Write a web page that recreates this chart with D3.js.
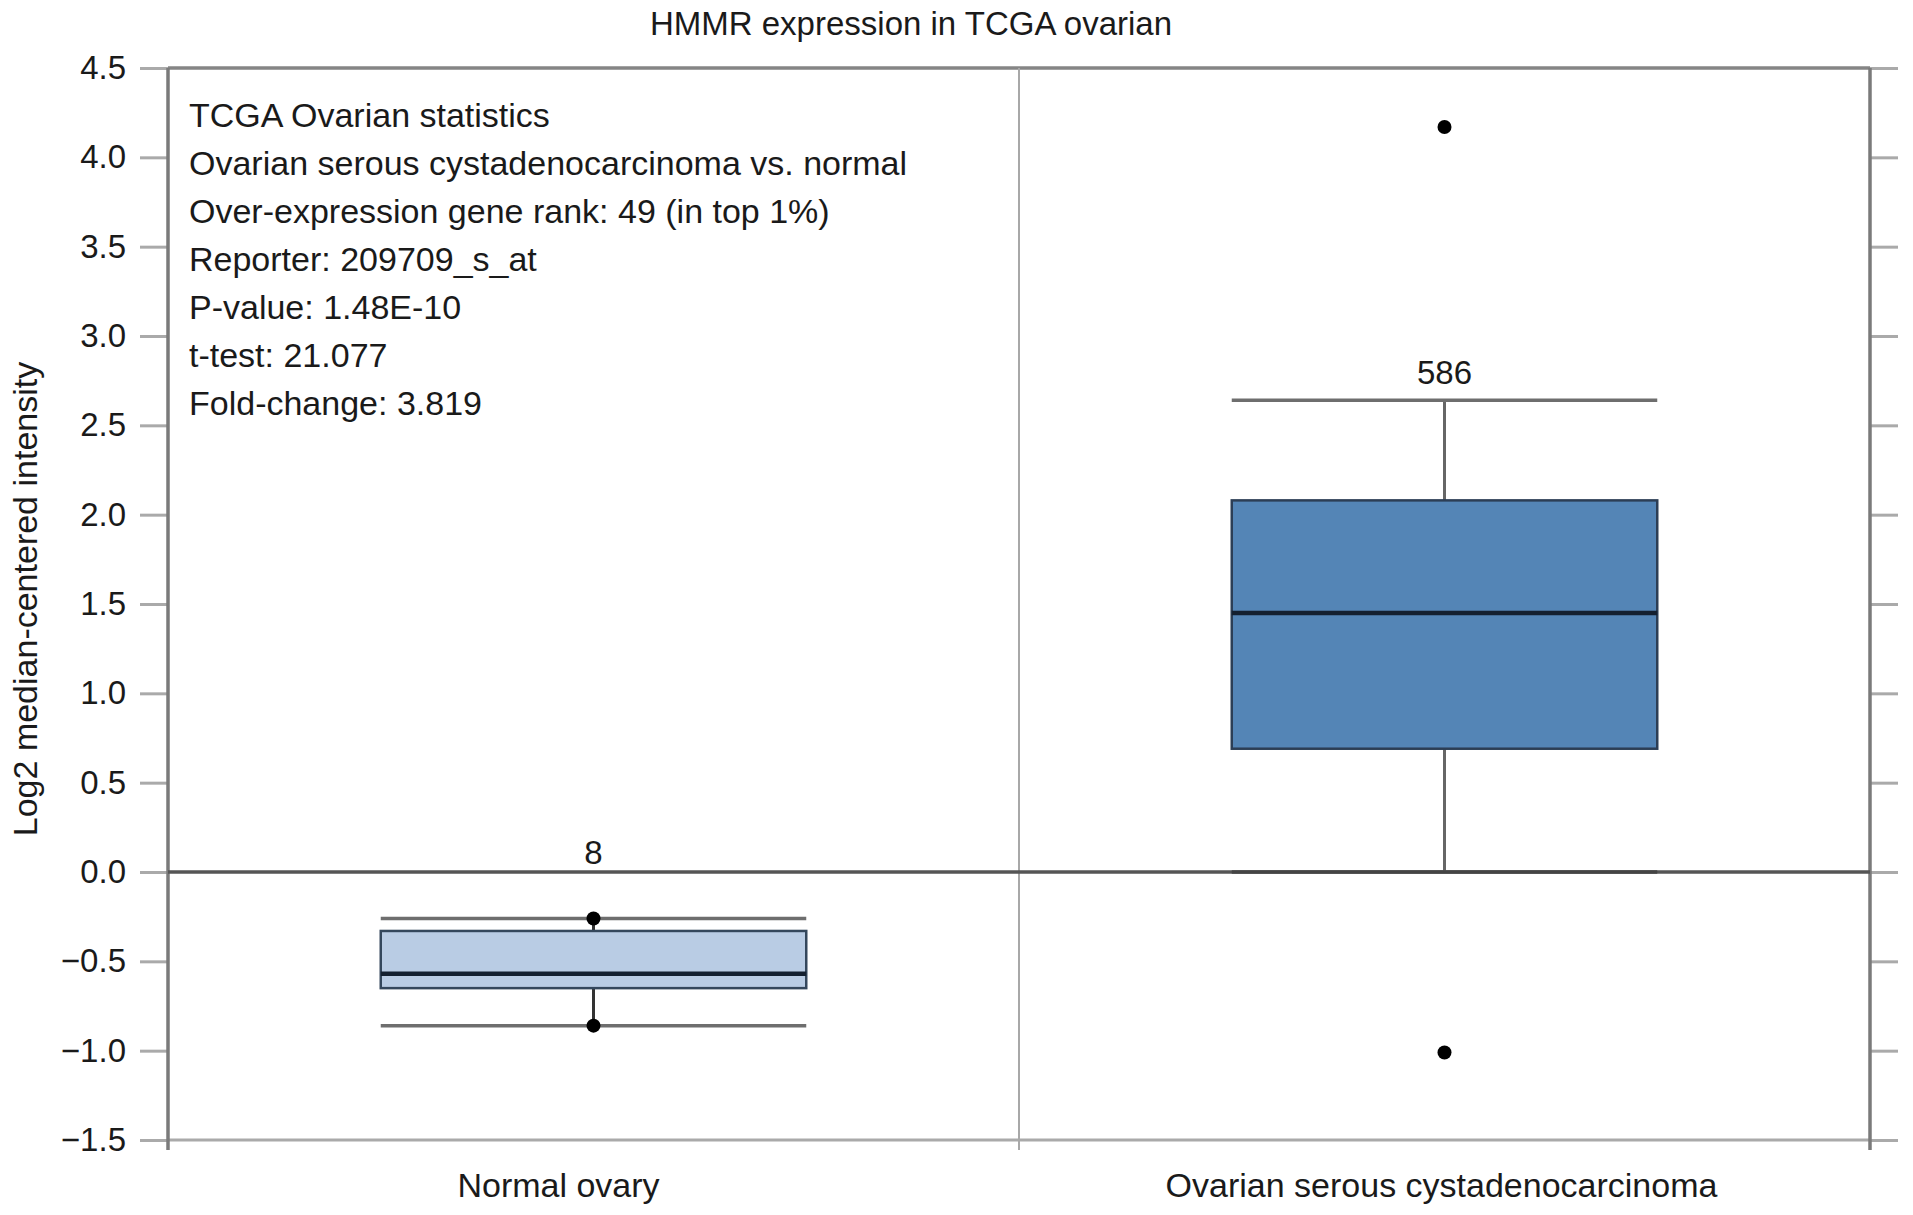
<!DOCTYPE html>
<html>
<head>
<meta charset="utf-8">
<script src="https://cdnjs.cloudflare.com/ajax/libs/d3/7.8.5/d3.min.js"></script>
<style>
  body { margin: 0; background: #fff; }
  text { font-family: "Liberation Sans", Arial, Helvetica, sans-serif; fill: #1a1a1a; }
</style>
</head>
<body>
<div id="chart"></div>
<script>
// chart values
var categories = ["Normal ovary", "Ovarian serous cystadenocarcinoma"];
var sampleCounts = [8, 586];
var whiskerLow = [-0.86, 0.0];
var q1Values = [-0.65, 0.69];
var medians = [-0.57, 1.45];
var q3Values = [-0.33, 2.08];
var whiskerHigh = [-0.26, 2.64];
var pointGroups = [0, 0, 1, 1];
var pointValues = [-0.26, -0.86, 4.17, -1.01];
var yTicks = [-1.5, -1.0, -0.5, 0.0, 0.5, 1.0, 1.5, 2.0, 2.5, 3.0, 3.5, 4.0, 4.5];
var statsLines = [
  "TCGA Ovarian statistics",
  "Ovarian serous cystadenocarcinoma vs. normal",
  "Over-expression gene rank: 49 (in top 1%)",
  "Reporter: 209709_s_at",
  "P-value: 1.48E-10",
  "t-test: 21.077",
  "Fold-change: 3.819"
];
var chartTitle = "HMMR expression in TCGA ovarian";
var yLabel = "Log2 median-centered intensity";

var svgWidth = 1913;
var svgHeight = 1215;

var margin = { top: 68, right: 43, bottom: 75, left: 168 };
var width = svgWidth - margin.left - margin.right;
var height = svgHeight - margin.top - margin.bottom;

var boxFills = ["#b9cce4", "#5485b6"];
var boxStrokes = ["#34475c", "#2c3e55"];
var labelShift = [-35, -3];

var svg = d3.select("#chart")
  .append("svg")
  .attr("width", svgWidth)
  .attr("height", svgHeight);

var chartGroup = svg.append("g")
  .attr("transform", `translate(${margin.left}, ${margin.top})`);

// scales
var xBand = d3.scaleBand()
  .domain(categories)
  .range([0, width])
  .padding(0);

var yLinearScale = d3.scaleLinear()
  .domain([-1.5, 4.5])
  .range([height, 0]);

var boxWidth = xBand.bandwidth() * 0.5;
var cx = i => xBand(categories[i]) + xBand.bandwidth() / 2;

// left axis with labels
var leftAxis = d3.axisLeft(yLinearScale)
  .tickValues(yTicks)
  .tickSize(28)
  .tickPadding(14)
  .tickFormat(d3.format(".1f"));

var yAxis = chartGroup.append("g").call(leftAxis);
yAxis.select(".domain").remove();
yAxis.selectAll("line").attr("stroke", "#aaa").attr("stroke-width", 3);
yAxis.selectAll("text").style("font-size", "33px").attr("fill", "#1a1a1a");

// right axis, ticks only
var rightAxis = d3.axisRight(yLinearScale)
  .tickValues(yTicks)
  .tickSize(28)
  .tickFormat("");

var y2Axis = chartGroup.append("g")
  .attr("transform", `translate(${width}, 0)`)
  .call(rightAxis);
y2Axis.select(".domain").remove();
y2Axis.selectAll("line").attr("stroke", "#aaa").attr("stroke-width", 3);

// category labels
var bottomAxis = d3.axisBottom(xBand).tickSize(0).tickPadding(33);
var xAxis = chartGroup.append("g")
  .attr("transform", `translate(0, ${height})`)
  .call(bottomAxis);
xAxis.select(".domain").remove();
xAxis.selectAll("text")
  .style("font-size", "34px")
  .attr("fill", "#1a1a1a")
  .attr("dx", (d, i) => labelShift[i]);

// bottom border (light) and top border (dark)
chartGroup.append("line")
  .attr("x1", 0).attr("x2", width)
  .attr("y1", yLinearScale(-1.5)).attr("y2", yLinearScale(-1.5))
  .attr("stroke", "#aaa").attr("stroke-width", 3);

chartGroup.append("line")
  .attr("x1", 0).attr("x2", width)
  .attr("y1", yLinearScale(4.5)).attr("y2", yLinearScale(4.5))
  .attr("stroke", "#858585").attr("stroke-width", 3.5);

// middle divider between categories
chartGroup.append("line")
  .attr("x1", xBand(categories[1])).attr("x2", xBand(categories[1]))
  .attr("y1", 0).attr("y2", height + 10)
  .attr("stroke", "#a8a8a8").attr("stroke-width", 2);

// left and right frame lines
[0, width].forEach(function(xv) {
  chartGroup.append("line")
    .attr("x1", xv).attr("x2", xv)
    .attr("y1", 0).attr("y2", height + 10)
    .attr("stroke", "#7a7a7a").attr("stroke-width", 3.5);
});

// zero line
chartGroup.append("line")
  .attr("x1", 0).attr("x2", width)
  .attr("y1", yLinearScale(0)).attr("y2", yLinearScale(0))
  .attr("stroke", "#555").attr("stroke-width", 3.5);

// box plots
var boxGroups = chartGroup.selectAll(".box")
  .data(categories)
  .enter()
  .append("g")
  .classed("box", true);

// whisker stems
boxGroups.append("line")
  .attr("x1", (d, i) => cx(i)).attr("x2", (d, i) => cx(i))
  .attr("y1", (d, i) => yLinearScale(whiskerHigh[i]))
  .attr("y2", (d, i) => yLinearScale(q3Values[i]))
  .attr("stroke", (d, i) => i === 0 ? "#333" : "#666")
  .attr("stroke-width", 3);

boxGroups.append("line")
  .attr("x1", (d, i) => cx(i)).attr("x2", (d, i) => cx(i))
  .attr("y1", (d, i) => yLinearScale(q1Values[i]))
  .attr("y2", (d, i) => yLinearScale(whiskerLow[i]))
  .attr("stroke", (d, i) => i === 0 ? "#333" : "#666")
  .attr("stroke-width", 3);

// whisker caps
boxGroups.append("line")
  .attr("x1", (d, i) => cx(i) - boxWidth / 2).attr("x2", (d, i) => cx(i) + boxWidth / 2)
  .attr("y1", (d, i) => yLinearScale(whiskerHigh[i]))
  .attr("y2", (d, i) => yLinearScale(whiskerHigh[i]))
  .attr("stroke", "#6e6e6e").attr("stroke-width", 3.5);

boxGroups.append("line")
  .attr("x1", (d, i) => cx(i) - boxWidth / 2).attr("x2", (d, i) => cx(i) + boxWidth / 2)
  .attr("y1", (d, i) => yLinearScale(whiskerLow[i]))
  .attr("y2", (d, i) => yLinearScale(whiskerLow[i]))
  .attr("stroke", (d, i) => i === 1 ? "#444" : "#6e6e6e").attr("stroke-width", 3.5);

// boxes
boxGroups.append("rect")
  .attr("x", (d, i) => cx(i) - boxWidth / 2)
  .attr("y", (d, i) => yLinearScale(q3Values[i]))
  .attr("width", boxWidth)
  .attr("height", (d, i) => yLinearScale(q1Values[i]) - yLinearScale(q3Values[i]))
  .attr("fill", (d, i) => boxFills[i])
  .attr("stroke", (d, i) => boxStrokes[i])
  .attr("stroke-width", 2.5);

// medians
boxGroups.append("line")
  .attr("x1", (d, i) => cx(i) - boxWidth / 2).attr("x2", (d, i) => cx(i) + boxWidth / 2)
  .attr("y1", (d, i) => yLinearScale(medians[i]))
  .attr("y2", (d, i) => yLinearScale(medians[i]))
  .attr("stroke", "#142030").attr("stroke-width", 4.5);

// sample counts
boxGroups.append("text")
  .attr("x", (d, i) => cx(i))
  .attr("y", (d, i) => yLinearScale(Math.max(whiskerHigh[i], 0)) - (i === 0 ? 8 : 16))
  .attr("text-anchor", "middle")
  .style("font-size", "33px")
  .text((d, i) => sampleCounts[i]);

// points
chartGroup.selectAll(".pt")
  .data(pointValues)
  .enter()
  .append("circle")
  .classed("pt", true)
  .attr("cx", (d, i) => cx(pointGroups[i]))
  .attr("cy", d => yLinearScale(d))
  .attr("r", 7)
  .attr("fill", "#000");

// statistics text block
chartGroup.selectAll(".stat")
  .data(statsLines)
  .enter()
  .append("text")
  .classed("stat", true)
  .attr("x", 21)
  .attr("y", (d, i) => 59 + i * 48)
  .style("font-size", "34px")
  .text(d => d);

// title
svg.append("text")
  .attr("x", 911)
  .attr("y", 35)
  .attr("text-anchor", "middle")
  .style("font-size", "33px")
  .text(chartTitle);

// y axis label
svg.append("text")
  .attr("transform", `translate(37, ${margin.top + height / 2 - 5}) rotate(-90)`)
  .attr("text-anchor", "middle")
  .style("font-size", "34px")
  .text(yLabel);
</script>
</body>
</html>
